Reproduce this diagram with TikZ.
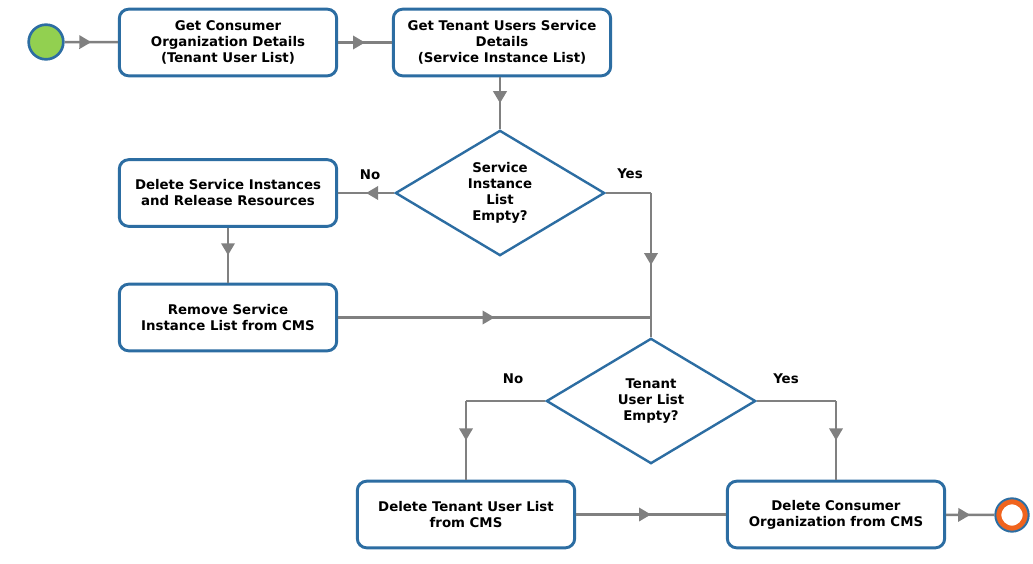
\documentclass[tikz,border=0pt]{standalone}
\usepackage{fontspec}
\setmainfont{DejaVu Sans}
\usetikzlibrary{arrows.meta,decorations.markings,shapes.geometric}
\definecolor{flowblue}{RGB}{44,109,162}
\definecolor{startgreen}{RGB}{146,208,80}
\definecolor{endorange}{RGB}{240,100,30}
\definecolor{linegray}{RGB}{128,128,128}
\tikzset{
	task/.style={
			draw=flowblue, line width=2.2pt, rounded corners=7pt, fill=white,
			minimum width=163pt, minimum height=50pt, align=center,
			font=\bfseries\fontsize{10}{12}\selectfont
		},
	decision/.style={
			diamond, draw=flowblue, line width=1.8pt, fill=white, inner sep=0pt,
			minimum width=157pt, minimum height=94pt, align=center,
			font=\bfseries\fontsize{10}{12}\selectfont
		},
	answer/.style={font=\bfseries\fontsize{10}{12}\selectfont},
	startev/.style={circle, draw=flowblue, line width=2pt, fill=startgreen, minimum size=26pt},
	endev/.style={
			circle, draw=flowblue, line width=1.5pt, fill=white, minimum size=25pt,
			path picture={\draw[endorange, line width=4pt] (path picture bounding box.center) circle (10pt);}
		},
	link/.style={draw=linegray, line width=1.9pt},
	flow/.style={
			link,
			postaction={decorate, decoration={markings,
							mark=at position 0.5 with {\arrow{Triangle[length=9pt, width=10pt]}}}}
		}
}

\begin{document}
\begin{tikzpicture}[x=0.75pt, y=-0.75pt]
	\useasboundingbox (0,0) rectangle (1033,564);

	\node[startev]	(start)		at (46,42)	{};
	\node[task]	(getorg)	at (228,42.5)	{Get Consumer\\Organization Details\\(Tenant User List)};
	\node[task]	(getsvc)	at (502,42.5)	{Get Tenant Users Service\\Details\\(Service Instance List)};
	\node[decision]	(svcempty)	at (500,193)	{Service\\Instance\\List\\Empty?};
	\node[task]	(delsvc)	at (228,193)	{Delete Service Instances\\and Release Resources};
	\node[task]	(rmsvc)		at (228,317.5)	{Remove Service\\Instance List from CMS};
	\node[decision]	(usrempty)	at (651,401)	{Tenant\\User List\\Empty?};
	\node[task]	(delusr)	at (466,514.5)	{Delete Tenant User List\\from CMS};
	\node[task]	(delorg)	at (836,514.5)	{Delete Consumer\\Organization from CMS};
	\node[endev]	(stop)		at (1012,515)	{};

	\node[answer]	(no1)	at (370,175)	{No};
	\node[answer]	(yes1)	at (630,174)	{Yes};
	\node[answer]	(no2)	at (513,379)	{No};
	\node[answer]	(yes2)	at (786,379)	{Yes};

	\coordinate (yescorner)	at (usrempty.north |- svcempty.east);
	\coordinate (join)	at (usrempty.north |- rmsvc.east);
	\coordinate (nocorner)	at (delusr.north |- usrempty.west);
	\coordinate (yes2corner)	at (delorg.north |- usrempty.east);

	\draw[flow]	(start) -- (getorg);
	\draw[flow]	(getorg) -- (getsvc);
	\draw[flow]	(svcempty.north |- getsvc.south) -- (svcempty.north);
	\draw[flow]	(svcempty.west) -- (delsvc.east);
	\draw[flow]	(delsvc) -- (rmsvc);
	\draw[link]	(svcempty.east) -- (yescorner);
	\draw[flow]	(yescorner) -- (usrempty.north);
	\draw[flow]	(rmsvc.east) -- (join);
	\draw[link]	(usrempty.west) -- (nocorner);
	\draw[flow]	(nocorner) -- (delusr.north);
	\draw[link]	(usrempty.east) -- (yes2corner);
	\draw[flow]	(yes2corner) -- (delorg.north);
	\draw[flow]	(delusr) -- (delorg);
	\draw[flow]	(delorg) -- (stop);
\end{tikzpicture}
\end{document}
